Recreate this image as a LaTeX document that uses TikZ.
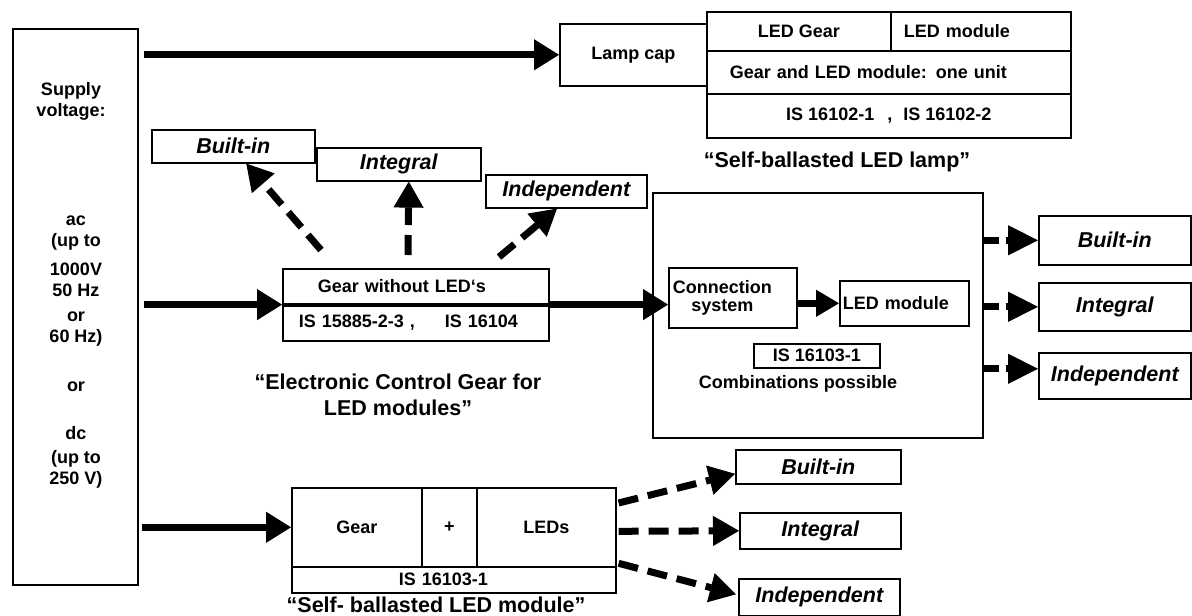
\documentclass[tikz,border=0pt]{standalone}
\usepackage{fontspec}
\setmainfont{Liberation Sans}
\usetikzlibrary{arrows.meta,calc}

\tikzset{
  box/.style={draw, line width=1.6pt, inner sep=0pt, anchor=north west,
    font=\fontsize{18}{21}\selectfont\bfseries},
  kind/.style={box, font=\fontsize{21.5}{24}\selectfont\bfseries\itshape},
  txt/.style={font=\fontsize{18}{21}\selectfont\bfseries, align=center, inner sep=0pt},
  ttl/.style={font=\fontsize{21.5}{26}\selectfont\bfseries, align=center, inner sep=0pt},
  feed/.style={line width=7pt, -{Triangle[length=25pt,width=31pt,line width=1pt]}},
  dasharr/.style={line width=7pt, dash pattern=on 20pt off 10pt,
    -{Triangle[length=26pt,width=30pt,line width=1pt]}},
  outarr/.style={line width=7pt, dash pattern=on 15pt off 7pt,
    -{Triangle[length=30pt,width=30pt,line width=1pt]}}
}

\begin{document}
\begin{tikzpicture}[x=1pt, y=-1pt]
  \useasboundingbox (0,0) rectangle (1192,616);

  % supply
  \node[box, minimum width=125, minimum height=556] (supply) at (12,28) {};
  \node[txt] (sv) at (71,101) {Supply\\voltage:};
  \node[txt] (ac) at (76,233) {ac\\(up to};
  \node[txt] (acv) at (76,280) {1000V\\50 Hz};
  \node[txt] (acf) at (76,329) {or\\60 Hz)};
  \node[txt] (or) at (76,387) {or};
  \node[txt] (dc) at (76,433) {dc};
  \node[txt] (dcv) at (76,469) {(up to\\250 V)};

  % self-ballasted lamp
  \node[box, minimum width=147, minimum height=62] (lampcap) at (559,23) {Lamp cap};
  \node[box, minimum width=184, minimum height=39] (ledgear) at (706,11) {LED Gear};
  \node[box, minimum width=180, minimum height=39, text width=154pt, align=left] (ledmod) at (890,11) {LED module};
  \node[box, minimum width=364, minimum height=43, text width=318pt, align=left] (oneunit) at (706,50) {Gear and LED module: one unit};
  \node[box, minimum width=364, minimum height=44] (lampstd) at (706,93) {IS 16102-1\hspace{8pt} ,\hspace{6pt} IS 16102-2};
  \node[ttl] (lamptitle) at (837,162) {“Self-ballasted LED lamp”};

  % control gear
  \node[kind, minimum width=163, minimum height=33] (bin1) at (151,129) {Built-in};
  \node[kind, minimum width=164, minimum height=33] (int1) at (316,147) {Integral};
  \node[kind, minimum width=161, minimum height=33] (ind1) at (485,174) {Independent};
  \node[box, minimum width=266, minimum height=35, text width=196pt, align=left] (gearA) at (282,268) {Gear without LED‘s};
  \node[box, minimum width=266, minimum height=37, text width=234pt, align=left] (gearB) at (282,303) {IS 15885-2-3 ,\hspace{30pt}IS 16104};
  \draw[line width=4pt] (gearA.south west) -- (gearA.south east);
  \node[ttl] (ecgtitle) at (398,395) {“Electronic Control Gear for\\LED modules”};

  % LED module
  \node[box, minimum width=330, minimum height=245] (combo) at (652,192) {};
  \node[box, minimum width=128, minimum height=60, text width=120pt, align=left] (conn) at (668,267)
    {\begin{tabular}{@{}c@{}}Connection\\[-3pt]system\end{tabular}};
  \node[box, minimum width=129, minimum height=45, text width=123pt, align=left] (ledm2) at (839,280) {LED module};
  \node[box, minimum width=126, minimum height=24] (std3) at (753,343) {IS 16103-1};
  \node[txt] (combtxt) at (798,384) {Combinations possible};
  \node[kind, minimum width=152, minimum height=49] (bin2) at (1038,215) {Built-in};
  \node[kind, minimum width=152, minimum height=48] (int2) at (1038,282) {Integral};
  \node[kind, minimum width=152, minimum height=46] (ind2) at (1038,352) {Independent};

  % self-ballasted module
  \node[box, minimum width=130, minimum height=79] (gearC) at (291,487) {Gear};
  \node[box, minimum width=55, minimum height=79] (plus) at (421,487) {+};
  \node[box, minimum width=139, minimum height=79] (leds) at (476,487) {LEDs};
  \node[box, minimum width=324, minimum height=26, text width=110pt, align=left] (std4) at (291,566) {IS 16103-1};
  \node[ttl] (sbmtitle) at (436,605) {“Self- ballasted LED module”};
  \node[kind, minimum width=165, minimum height=34] (bin3) at (735,449) {Built-in};
  \node[kind, minimum width=161, minimum height=36] (int3) at (739,512) {Integral};
  \node[kind, minimum width=161, minimum height=37] (ind3) at (738,578) {Independent};

  % feeds
  \draw[feed, shorten <=5pt] (supply.east |- lampcap.west) -- (lampcap.west);
  \draw[feed, shorten <=5pt] (supply.east |- gearA.south west) -- (gearA.south west);
  \draw[feed, shorten <=3pt] (supply.east |- gearC.west) -- (gearC.west);
  \draw[feed] (gearA.south east) -- (conn.west |- gearA.south east);
  \draw[feed, -{Triangle[length=23pt,width=27pt,line width=1pt]}] (conn.east |- ledm2.west) -- (ledm2.west);

  % dashed arrows
  \draw[dasharr] ($(gearA.north west)+(39,-18)$) -- ($(bin1.south)+(13,0)$);
  \draw[dasharr] ($(gearA.north west)+(126,-13)$) -- ($(int1.south)+(10,0)$);
  \draw[dasharr] ($(gearA.north west)+(217,-11)$) -- ($(ind1.south west)+(72,0)$);
  \draw[outarr] (combo.east |- bin2.west) -- (bin2.west);
  \draw[outarr] (combo.east |- int2.west) -- (int2.west);
  \draw[outarr] (combo.east |- ind2.west) ++(0,-7) -- ($(ind2.west)+(0,-7)$);
  \draw[dasharr] ($(leds.north east)+(2,16)$) -- ($(bin3.west)+(0,7)$);
  \draw[dasharr] ($(leds.east)+(2,4)$) -- (int3.west);
  \draw[dasharr] ($(leds.east)+(2,36)$) -- ($(ind3.west)+(-2,-3)$);
\end{tikzpicture}
\end{document}
